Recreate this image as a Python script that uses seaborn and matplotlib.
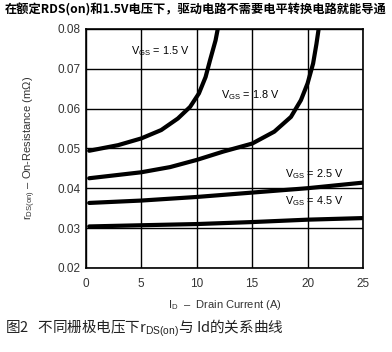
import matplotlib
matplotlib.use("Agg")
import matplotlib.pyplot as plt
import seaborn as sns
import pandas as pd

# ---- data ----
id_15 = [0.3, 2.9, 5.0, 6.8, 8.3, 9.4, 10.2, 10.8, 11.2, 11.7, 11.9, 12.1]
r_15 = [0.0494, 0.0508, 0.0525, 0.0546, 0.0575, 0.0604, 0.0638, 0.0679, 0.0721, 0.0771, 0.0800, 0.0820]

id_18 = [0.3, 2.5, 5.0, 7.6, 10.0, 12.4, 15.0, 17.0, 18.5, 19.4, 20.0, 20.5, 20.8, 21.0, 21.2]
r_18 = [0.0425, 0.0432, 0.0440, 0.0453, 0.0471, 0.0492, 0.0512, 0.0542, 0.0579, 0.0621, 0.0663, 0.0713, 0.0762, 0.0800, 0.0820]

id_25 = [0.3, 5.0, 10.0, 15.0, 20.0, 25.0]
r_25 = [0.0363, 0.0369, 0.0378, 0.0389, 0.0400, 0.0414]

id_45 = [0.3, 5.0, 10.0, 15.0, 20.0, 25.0]
r_45 = [0.0304, 0.0307, 0.0310, 0.0315, 0.0321, 0.0325]

series_names = ["1.5 V", "1.8 V", "2.5 V", "4.5 V"]
x_ticks = [0, 5, 10, 15, 20, 25]
y_ticks = [0.02, 0.03, 0.04, 0.05, 0.06, 0.07, 0.08]
y_ticklabels = ["0.02", "0.03", "0.04", "0.05", "0.06", "0.07", "0.08"]

title_text = "在额定RDS(on)和1.5V电压下，驱动电路不需要电平转换电路就能导通"
caption_text = "图2   不同栅极电压下r$_{\\mathrm{DS(on)}}$与 Id的关系曲线"
xlabel_text = "I$_{\\mathrm{D}}$  –  Drain Current (A)"
ylabel_text = "r$_{\\mathrm{DS(on)}}$ – On-Resistance (mΩ)"

frames = []
for name, xs, ys in zip(series_names, [id_15, id_18, id_25, id_45], [r_15, r_18, r_25, r_45]):
    frames.append(pd.DataFrame({"Id": xs, "r": ys, "Vgs": name}))
df = pd.concat(frames, ignore_index=True)

sns.set_theme(style="white")
plt.rcParams["font.family"] = ["Liberation Sans", "Noto Sans CJK SC", "DejaVu Sans"]
plt.rcParams["mathtext.fontset"] = "custom"
plt.rcParams["mathtext.rm"] = "Liberation Sans"
plt.rcParams["mathtext.it"] = "Liberation Sans"

fig = plt.figure(figsize=(3.92, 3.52), dpi=100)
ax = fig.add_axes([0.219, 0.239, 0.707, 0.679])

sns.lineplot(data=df, x="Id", y="r", hue="Vgs", palette=["black"] * 4,
             linewidth=3.0, legend=False, ax=ax, sort=False, estimator=None)
for ln in ax.get_lines():
    ln.set_solid_joinstyle("round")
    ln.set_solid_capstyle("round")

ax.set_xlim(0, 25)
ax.set_ylim(0.02, 0.08)
ax.set_xticks(x_ticks)
ax.set_yticks(y_ticks)
ax.set_yticklabels(y_ticklabels)
ax.grid(True, color="black", linewidth=1.0)
for s in ax.spines.values():
    s.set_color("black")
    s.set_linewidth(1.2)
ax.tick_params(axis="both", length=0, labelsize=8.5, colors="#333333")
ax.tick_params(axis="y", pad=4)
ax.tick_params(axis="x", pad=7)
ax.set_xlabel(xlabel_text, fontsize=8, color="#333333", labelpad=6)
ax.set_ylabel(ylabel_text, fontsize=8, color="#333333", labelpad=14)

lbl_kw = dict(fontsize=7.8, color="black", ha="center", va="center")
ax.text(6.7, 0.0745, "V$_{\\mathrm{GS}}$ = 1.5 V", **lbl_kw)
ax.text(14.8, 0.0633, "V$_{\\mathrm{GS}}$ = 1.8 V", **lbl_kw)
ax.text(20.6, 0.0435, "V$_{\\mathrm{GS}}$ = 2.5 V", **lbl_kw)
ax.text(20.6, 0.0368, "V$_{\\mathrm{GS}}$ = 4.5 V", **lbl_kw)

fig.text(0.012, 0.972, title_text, fontsize=8.8, fontweight="bold",
         family=["Noto Sans CJK SC", "DejaVu Sans"], ha="left", va="center", color="black")
fig.text(0.012, 0.068, caption_text, fontsize=10.5,
         family=["Noto Sans CJK SC", "DejaVu Sans"], ha="left", va="center", color="#222222")

fig.savefig("out.png", dpi=100, facecolor="white")
